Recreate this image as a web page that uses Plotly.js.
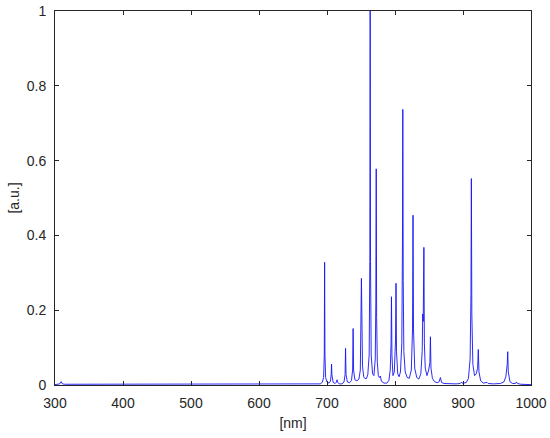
<!DOCTYPE html>
<html>
<head>
<meta charset="utf-8">
<script src="https://cdn.plot.ly/plotly-3.0.1.min.js"></script>
<style>html,body{margin:0;padding:0;background:#fff;}#chart{width:550px;height:438px;}</style>
</head>
<body>
<div id="chart"></div>
<script>
// Wavelength samples [nm]
const wavelength = [
  300, 305, 307, 309, 311, 314, 330, 340, 356, 358, 360, 380, 385, 388, 400, 404, 407, 420, 425, 450,
  500, 550, 600, 650, 680, 690, 693, 695, 696, 696.5, 697, 698, 700, 703, 705, 706.2, 706.7, 707.2, 709, 712,
  714, 714.7, 715.4, 718, 722, 725, 726.6, 727.3, 728, 730, 733, 736, 737.7, 738.4, 739.1, 741, 744, 747, 749, 750.6,
  752.2, 754, 756, 758, 760, 762, 763, 763.5, 764, 765, 767, 769, 771, 771.8, 772.4, 773, 774, 775.5, 777, 778.5,
  780, 784, 788, 791, 793, 794.2, 794.8, 795.5, 797, 799, 800.8, 801.5, 802.2, 804, 806, 808, 810, 811,
  811.5, 812.1, 813, 815, 818, 821, 824, 825.8, 826.5, 827.2, 829, 832, 835, 838, 840, 840.8, 841.5, 842.5,
  843.2, 844.5, 847, 849.5, 851.3, 852.1, 852.9, 855, 858, 862, 865, 866.8, 868.5, 872, 880, 890, 896, 898,
  899.5, 905, 908, 910.5, 911.7, 912.3, 913, 914.5, 917, 919.5, 921.5, 922.5, 923.5, 926, 930, 934, 935.4, 937,
  945, 955, 960, 963, 965, 965.8, 966.6, 969, 973, 977, 978.5, 980, 985, 1000
];
// Normalised intensity [a.u.] at those wavelengths
const intensity = [
  0.001, 0.002, 0.003, 0.009, 0.003, 0.002, 0.002, 0.002, 0.002, 0.004, 0.002, 0.002, 0.003, 0.002, 0.002, 0.003, 0.002, 0.003, 0.002, 0.002,
  0.002, 0.002, 0.002, 0.002, 0.002, 0.003, 0.007, 0.02, 0.08, 0.328, 0.08, 0.02, 0.008, 0.005, 0.01, 0.028, 0.056, 0.028, 0.007, 0.004,
  0.008, 0.014, 0.008, 0.003, 0.003, 0.008, 0.028, 0.098, 0.028, 0.008, 0.006, 0.012, 0.04, 0.151, 0.04, 0.014, 0.011, 0.016, 0.04, 0.285,
  0.05, 0.022, 0.017, 0.017, 0.028, 0.08, 0.33, 1.0, 0.33, 0.08, 0.03, 0.025, 0.07, 0.22, 0.578, 0.18, 0.06, 0.025, 0.02, 0.024,
  0.01, 0.005, 0.005, 0.012, 0.04, 0.11, 0.236, 0.08, 0.025, 0.035, 0.12, 0.272, 0.09, 0.03, 0.022, 0.035, 0.11, 0.38,
  0.737, 0.28, 0.09, 0.035, 0.02, 0.018, 0.04, 0.15, 0.454, 0.15, 0.045, 0.02, 0.016, 0.03, 0.09, 0.19, 0.17, 0.368,
  0.11, 0.045, 0.025, 0.04, 0.06, 0.129, 0.045, 0.018, 0.009, 0.006, 0.009, 0.02, 0.007, 0.004, 0.003, 0.003, 0.004, 0.008,
  0.004, 0.007, 0.018, 0.07, 0.24, 0.552, 0.19, 0.055, 0.025, 0.03, 0.045, 0.095, 0.035, 0.011, 0.005, 0.005, 0.007, 0.004,
  0.003, 0.004, 0.008, 0.022, 0.055, 0.089, 0.035, 0.009, 0.004, 0.004, 0.008, 0.004, 0.002, 0.001
];
const xTicks = [300, 400, 500, 600, 700, 800, 900, 1000];
const yTicks = [0, 0.2, 0.4, 0.6, 0.8, 1];

const axisColor = '#262626';
const font = {family: 'Liberation Sans, Arial, sans-serif', size: 14, color: axisColor};

const trace = {
  x: wavelength, y: intensity, type: 'scatter', mode: 'lines',
  line: {color: 'rgb(20,20,245)', width: 0.9}, hoverinfo: 'skip'
};

const layout = {
  width: 550, height: 438,
  margin: {l: 55, r: 19, t: 11, b: 53, pad: 0},
  paper_bgcolor: '#ffffff', plot_bgcolor: '#ffffff',
  font: font, showlegend: false,
  xaxis: {
    range: [300, 1000], tickvals: xTicks, ticktext: xTicks.map(String),
    ticks: 'inside', ticklen: 4, tickcolor: axisColor, tickwidth: 1,
    ticklabelstandoff: 5,
    showline: true, linecolor: axisColor, linewidth: 1, mirror: 'ticks',
    showgrid: false, zeroline: false,
    title: {text: '[nm]', font: font, standoff: 8}
  },
  yaxis: {
    range: [0, 1], tickvals: yTicks, ticktext: yTicks.map(String),
    ticks: 'inside', ticklen: 4, tickcolor: axisColor, tickwidth: 1,
    ticklabelstandoff: 5,
    showline: true, linecolor: axisColor, linewidth: 1, mirror: 'ticks',
    showgrid: false, zeroline: false,
    title: {text: '[a.u.]', font: font, standoff: 3}
  }
};

Plotly.newPlot('chart', [trace], layout, {displayModeBar: false, staticPlot: true});
</script>
</body>
</html>
